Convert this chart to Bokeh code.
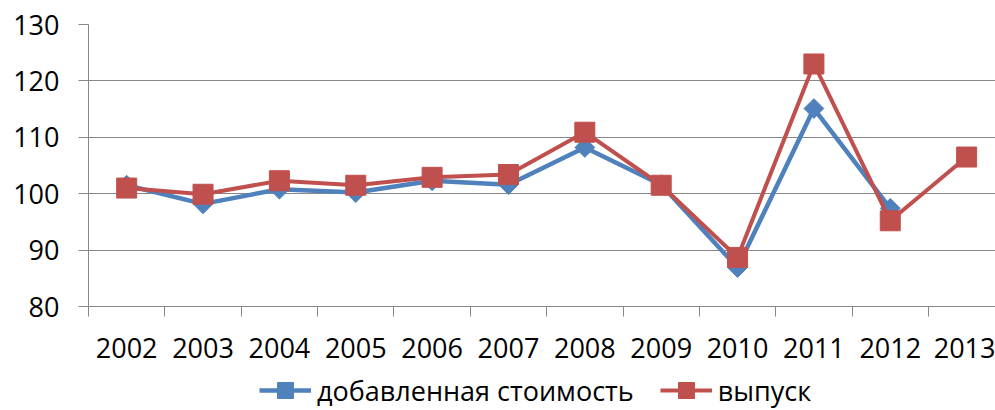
import numpy as np
from bokeh.plotting import figure
from bokeh.layouts import column
from bokeh.models import (
    ColumnDataSource, Range1d, FixedTicker, Legend, LegendItem
)
from bokeh.embed import file_html
from bokeh.resources import INLINE

# Data
years = ["2002", "2003", "2004", "2005", "2006", "2007",
         "2008", "2009", "2010", "2011", "2012", "2013"]
value_added = [101.5, 98.2, 100.8, 100.2, 102.3, 101.6,
               108.2, 101.6, 86.9, 115.1, 97.4, np.nan]
output = [101.0, 99.9, 102.3, 101.5, 102.9, 103.4,
          110.9, 101.5, 88.7, 123.0, 95.2, 106.5]
y_ticks = [80, 90, 100, 110, 120, 130]
series_names = ["добавленная стоимость", "выпуск"]

BLUE = "#4F81BD"
RED = "#C0504D"
GRID = "#878787"
FONT = "Open Sans"
W = 995

# categories sit at i + 0.5, category borders at integers
xs = [i + 0.5 for i in range(len(years))]
cat_width = 76.36
left = 88
frame_w = W - left

src = ColumnDataSource(data=dict(x=xs, va=value_added, out=output, year=years))

p = figure(
    width=W, height=370,
    output_backend="svg", toolbar_location=None,
    x_range=Range1d(0, frame_w / cat_width),
    y_range=Range1d(y_ticks[0], y_ticks[-1]),
    min_border_left=left, min_border_right=0,
    min_border_top=24, min_border_bottom=64,
)

# value added (blue, diamonds)
p.line("x", "va", source=src, line_color=BLUE, line_width=4.5)
p.scatter("x", "va", source=src, marker="square", angle=np.pi / 4,
          size=14, fill_color=BLUE, line_color=BLUE)

# output (red, squares)
p.line("x", "out", source=src, line_color=RED, line_width=4)
p.scatter("x", "out", source=src, marker="square", size=20,
          fill_color=RED, line_color=RED)

# axes
p.xaxis.ticker = FixedTicker(ticks=xs, minor_ticks=list(range(len(years))))
p.xaxis.major_label_overrides = {x: y for x, y in zip(xs, years)}
p.xaxis.major_tick_out = 0
p.xaxis.major_tick_in = 0
p.xaxis.minor_tick_out = 10
p.xaxis.minor_tick_in = 0
p.xaxis.minor_tick_line_color = GRID
p.xaxis.major_label_standoff = 21

p.yaxis.ticker = FixedTicker(ticks=y_ticks)
p.yaxis.major_tick_out = 10
p.yaxis.major_tick_in = 0
p.yaxis.minor_tick_line_color = None
p.yaxis.major_label_standoff = 19

for ax in (p.xaxis, p.yaxis):
    ax.axis_line_color = GRID
    ax.major_tick_line_color = GRID
    ax.major_label_text_font = FONT
    ax.major_label_text_font_size = "27px"
    ax.major_label_text_color = "black"

p.xgrid.grid_line_color = None
p.ygrid.ticker = FixedTicker(ticks=y_ticks)
p.ygrid.grid_line_color = GRID
p.outline_line_color = None

# legend strip under the chart (a frame-only figure holding the legend);
# its key renderers hold one point outside the visible range
lf = figure(
    width=W, height=40, output_backend="svg", toolbar_location=None,
    x_range=Range1d(0, 1), y_range=Range1d(0, 1),
    min_border=0, x_axis_location=None, y_axis_location=None,
)
lf.grid.grid_line_color = None
lf.outline_line_color = None
key = ColumnDataSource(data=dict(x=[-10], y=[-10]))
kb_l = lf.line("x", "y", source=key, line_color=BLUE, line_width=4.5)
kb_s = lf.scatter("x", "y", source=key, marker="square", angle=np.pi / 4,
                  size=14, fill_color=BLUE, line_color=BLUE)
kr_l = lf.line("x", "y", source=key, line_color=RED, line_width=4)
kr_s = lf.scatter("x", "y", source=key, marker="square", size=20,
                  fill_color=RED, line_color=RED)

legend = Legend(
    items=[
        LegendItem(label=series_names[0], renderers=[kb_l, kb_s]),
        LegendItem(label=series_names[1], renderers=[kr_l, kr_s]),
    ],
    orientation="horizontal", location=(171, 0),
    border_line_color=None, background_fill_alpha=0,
    label_text_font=FONT, label_text_font_size="27px",
    label_text_color="black", label_height=30,
    glyph_width=52, glyph_height=40, label_standoff=6, spacing=26,
    padding=0, margin=0,
)
lf.add_layout(legend)

page = column(p, lf, spacing=0)
open("out.html", "w").write(file_html(page, INLINE))
